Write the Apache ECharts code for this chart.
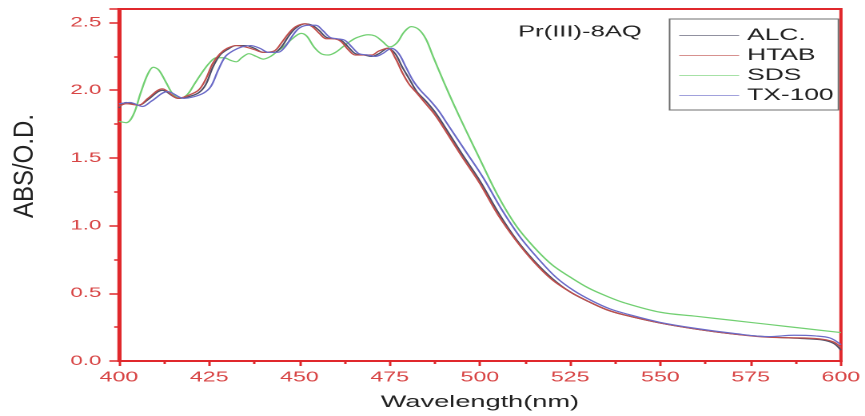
<!DOCTYPE html>
<html>
<head>
<meta charset="utf-8">
<script src="https://cdn.jsdelivr.net/npm/echarts@6/dist/echarts.min.js"></script>
<style>
  html, body { margin: 0; padding: 0; background: #fff; overflow: hidden; }
  #c { width: 541px; height: 416px; transform: scaleX(1.599); transform-origin: 0 0; }
</style>
</head>
<body>
<div id="c"></div>
<script>
// ---- data ----
const seriesNames = ['ALC.', 'HTAB', 'SDS', 'TX-100'];
const xTicks = [400, 425, 450, 475, 500, 525, 550, 575, 600];
const yTicks = [0.0, 0.5, 1.0, 1.5, 2.0, 2.5];

const wlAlc = [400,402,405.5,408,412,416.5,419,422,424,426,428,430,432.5,435,437.5,440,443,445,447,449,451.5,453.5,455.5,457.5,459.5,461.5,463.5,465.5,468,470,472,474.5,476.5,478.5,480.5,482.5,485,487.5,490,495,500,505,510,515,520,525,530,535,540,550,560,570,580,590,595,598,600];
const alc = [1.87,1.91,1.89,1.93,2.00,1.94,1.95,1.98,2.04,2.17,2.26,2.30,2.33,2.33,2.31,2.28,2.28,2.32,2.40,2.46,2.49,2.48,2.44,2.39,2.38,2.37,2.32,2.27,2.26,2.25,2.27,2.31,2.27,2.17,2.08,1.99,1.92,1.84,1.74,1.53,1.33,1.10,0.90,0.74,0.61,0.51,0.44,0.38,0.34,0.28,0.235,0.20,0.178,0.165,0.155,0.13,0.08];

const wlHtab = wlAlc;
const htab = [1.88,1.90,1.89,1.94,2.01,1.94,1.96,2.00,2.08,2.20,2.27,2.31,2.33,2.32,2.30,2.28,2.29,2.35,2.42,2.47,2.49,2.47,2.42,2.38,2.38,2.36,2.30,2.26,2.26,2.26,2.29,2.31,2.24,2.13,2.04,1.98,1.90,1.82,1.72,1.51,1.31,1.08,0.89,0.73,0.60,0.51,0.44,0.38,0.34,0.28,0.235,0.20,0.175,0.17,0.16,0.14,0.10];

const wlSds = [400,402,404,406,408,409.5,411,413,415,417,419,421,423,425,427,429,431,432.5,434,436,438,440,442,444,446,448,450.5,452,454,456,458,460,462,464,466,469,471,473,475,477,479,481,483,485,487,490,493,496,500,505,510,515,520,525,530,535,540,550,560,570,580,590,600];
const sds = [1.77,1.76,1.82,1.98,2.12,2.17,2.15,2.06,1.97,1.94,1.97,2.05,2.13,2.20,2.24,2.24,2.22,2.21,2.24,2.27,2.25,2.23,2.25,2.29,2.33,2.38,2.42,2.40,2.32,2.27,2.26,2.28,2.32,2.36,2.39,2.41,2.40,2.36,2.32,2.35,2.43,2.47,2.45,2.38,2.25,2.06,1.88,1.71,1.49,1.22,1.00,0.84,0.71,0.62,0.54,0.48,0.43,0.36,0.33,0.30,0.27,0.24,0.21];

const wlTx = [400,403,406.5,409,413.5,418,420.5,423.5,425.5,427.5,429.5,431.5,434,436.5,439,441.5,444,446,448,450,452.5,454.5,456.5,458.5,460.5,462.5,464.5,466.5,469,471,473,475.5,477.5,479.5,481.5,483.5,486,488.5,491,496,501,506,511,516,521,526,531,536,541,550,560,570,580,587,593,597,600];
const tx = [1.90,1.91,1.88,1.92,1.99,1.94,1.95,1.98,2.03,2.15,2.25,2.29,2.32,2.33,2.31,2.28,2.28,2.32,2.40,2.46,2.48,2.48,2.44,2.39,2.38,2.37,2.32,2.27,2.26,2.25,2.27,2.31,2.27,2.17,2.07,2.00,1.93,1.85,1.75,1.55,1.35,1.12,0.92,0.76,0.62,0.52,0.445,0.385,0.345,0.285,0.24,0.205,0.18,0.19,0.185,0.17,0.12];

// ---- chart ----
const RED = '#e0282c';
const LABEL_RED = '#d84545';
const FONT = '"Liberation Sans", Arial, sans-serif';
const colors = ['#505068', '#c0504d', '#72d072', '#6b6bc8'];
const pairs = (xs, ys) => xs.map((x, i) => [x, ys[i]]);
const dataSets = [pairs(wlAlc, alc), pairs(wlHtab, htab), pairs(wlSds, sds), pairs(wlTx, tx)];
// thin line icon spanning the full legend item box
const LINE_ICON = 'path://M0,0h0.01v0.01h-0.01z M0,6.5h60v1.1h-60z M59.99,13.99h0.01v0.01h-0.01z';

const chart = echarts.init(document.getElementById('c'), null, { devicePixelRatio: 2 });
chart.setOption({
  animation: false,
  backgroundColor: '#fff',
  title: {
    text: 'Pr(III)-8AQ', left: 324, top: 24, padding: 0,
    textStyle: { fontSize: 16, fontWeight: 'normal', color: '#222', fontFamily: FONT }
  },
  legend: {
    orient: 'vertical', left: 418.75, top: 19,
    itemWidth: 37.5, itemHeight: 14, itemGap: 3,
    padding: [8, 3, 6, 6],
    icon: LINE_ICON,
    borderColor: '#707070', borderWidth: 1,
    textStyle: { fontSize: 16.5, color: '#222', fontFamily: FONT },
    data: seriesNames
  },
  grid: {
    left: 74.4, right: 12.9, top: 9, bottom: 55,
    show: true, borderColor: RED, borderWidth: 2, containLabel: false
  },
  xAxis: {
    type: 'value', min: xTicks[0], max: xTicks[xTicks.length - 1], interval: 25,
    name: 'Wavelength(nm)', nameLocation: 'middle', nameGap: 33,
    nameTextStyle: { fontSize: 17, color: '#222', fontFamily: FONT },
    axisLine: { show: true, lineStyle: { color: RED, width: 2 } },
    axisTick: { show: true, inside: false, length: 5, lineStyle: { color: RED, width: 1.5 } },
    minorTick: { show: true, splitNumber: 2, length: 3, lineStyle: { color: RED, width: 1.5 } },
    axisLabel: { color: LABEL_RED, fontSize: 14.5, fontFamily: FONT, margin: 9 },
    splitLine: { show: false }
  },
  yAxis: {
    type: 'value', min: 0, max: 2.6, interval: 0.5,
    axisLine: { show: true, onZero: false, lineStyle: { color: RED, width: 2 } },
    axisTick: { show: true, inside: false, length: 6, lineStyle: { color: RED, width: 1.5 } },
    minorTick: { show: true, splitNumber: 2, length: 3, lineStyle: { color: RED, width: 1.5 } },
    axisLabel: {
      color: LABEL_RED, fontSize: 14, fontFamily: FONT, margin: 11, showMaxLabel: false,
      formatter: v => (yTicks.some(t => Math.abs(t - v) < 1e-9) ? v.toFixed(1) : '')
    },
    splitLine: { show: false }
  },
  graphic: [{
    type: 'text', x: 15.6, y: 166, rotation: Math.PI / 2, scaleY: 0.72,
    style: { text: 'ABS/O.D.', fontSize: 24, fontFamily: FONT, fill: '#222', align: 'center', verticalAlign: 'middle' }
  }],
  series: seriesNames.map((name, i) => ({
    name, type: 'line', data: dataSets[i], smooth: 0.35,
    symbol: 'none', showSymbol: false,
    lineStyle: { color: colors[i], width: 1.2 },
    itemStyle: { color: colors[i] },
    z: i === 2 ? 1 : 2 + i
  }))
});
</script>
</body>
</html>
